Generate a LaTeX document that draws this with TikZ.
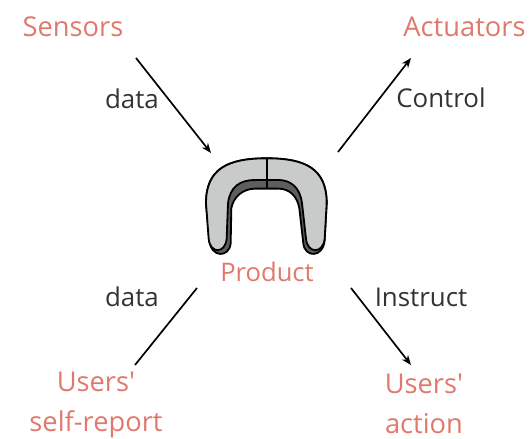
\documentclass[tikz,border=0pt]{standalone}
\usepackage{xcolor}
\usepackage{fontspec}
\setmainfont{Open Sans}
\usetikzlibrary{arrows.meta}
\definecolor{salmon}{HTML}{E0796C}
\definecolor{ink}{HTML}{333333}
\definecolor{shell}{HTML}{C9CBCA}
\definecolor{shade}{HTML}{5E5E5E}
\tikzset{
  line/.style={draw=black, line width=1.2pt},
  arrowline/.style={line, -{Stealth[length=7pt,width=5.5pt]}},
  outline/.style={draw=black, line width=1.3pt},
  lbl/.style={text=ink, font=\fontsize{18.4}{20}\selectfont, inner sep=0pt},
  tlabel/.style={text=salmon, font=\fontsize{19.4}{28.5}\selectfont, align=center, inner sep=0pt},
  plabel/.style={text=salmon, font=\fontsize{18.2}{20}\selectfont, inner sep=0pt}
}
\begin{document}
\begin{tikzpicture}[x=0.025cm,y=-0.025cm]
  \useasboundingbox (0,0) rectangle (529,439);
  % product
  \begin{scope}[shift={(190,140)},x=0.00833cm,y=-0.00833cm]
    \path[outline, fill=shade] (58,300) -- (48,190) .. controls (48,85) and (115,55) .. (230,55)
      .. controls (345,55) and (410,85) .. (410,190) -- (404,300)
      .. controls (400,354) and (344,354) .. (340,310) -- (328,205)
      .. controls (322,170) and (300,146) .. (265,146) -- (195,146)
      .. controls (160,146) and (130,170) .. (124,205) -- (122,310)
      .. controls (118,354) and (62,354) .. (58,300) -- cycle;
    \path[outline, fill=shell] (56,296) -- (48,190) .. controls (48,85) and (115,55) .. (230,55)
      .. controls (345,55) and (410,85) .. (410,190) -- (404,296)
      .. controls (400,342) and (352,342) .. (348,296) -- (336,190)
      .. controls (330,140) and (300,120) .. (265,120) -- (195,120)
      .. controls (150,120) and (120,140) .. (114,190) -- (110,296)
      .. controls (106,342) and (60,342) .. (56,296) -- cycle;
    \coordinate (seamtop) at (230,55);
    \coordinate (seambot) at (230,146);
    \draw[outline] (seamtop) -- (seambot);
  \end{scope}
  \node[plabel] (product) at (267,272) {Product};
  % outer labels
  \node[tlabel] (sensors) at (73,27) {Sensors};
  \node[tlabel] (actuators) at (464.5,27) {Actuators};
  \node[tlabel] (report) at (96,405.5) {Users\textquotesingle\\self-report};
  \node[tlabel] (action) at (424,403.5) {Users\textquotesingle\\action};
  \node[lbl] (dataa) at (132,99) {data};
  \node[lbl] (control) at (441,98) {Control};
  \node[lbl] (datab) at (132,297) {data};
  \node[lbl] (instruct) at (421,297) {Instruct};
  % connectors
  \coordinate (sensorsend) at (136,58);
  \coordinate (productin) at (211,153);
  \coordinate (productout) at (338,152);
  \coordinate (actuatorsend) at (411,58);
  \coordinate (reportend) at (135,365);
  \coordinate (productlow) at (197,288);
  \coordinate (productdown) at (351,288);
  \coordinate (actionend) at (411,365);
  \draw[arrowline] (sensorsend) -- (productin);
  \draw[arrowline] (productout) -- (actuatorsend);
  \draw[line] (reportend) -- (productlow);
  \draw[arrowline] (productdown) -- (actionend);
\end{tikzpicture}
\end{document}
